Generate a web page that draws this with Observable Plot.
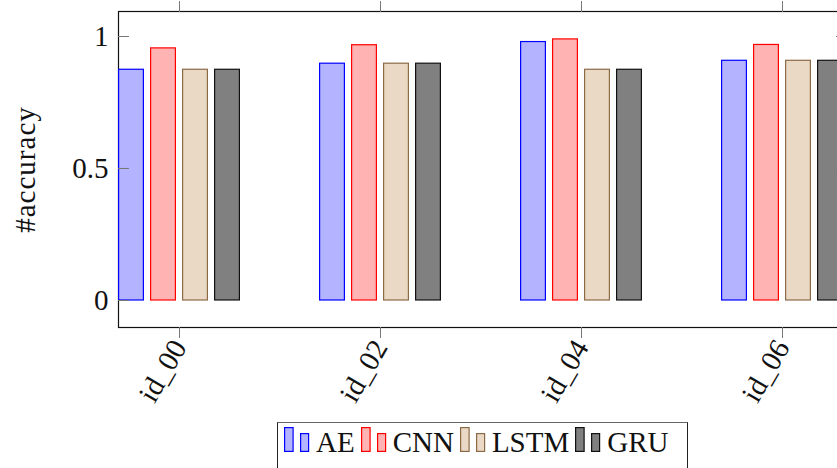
<!DOCTYPE html>
<html>
<head>
<meta charset="utf-8">
<script src="https://cdn.jsdelivr.net/npm/d3@7"></script>
<script src="https://cdn.jsdelivr.net/npm/@observablehq/plot@0.6"></script>
<style>
  html, body { margin: 0; padding: 0; background: white; overflow: hidden; width: 837px; height: 468px; }
  #chart { position: absolute; left: 0; top: 0; width: 870px; }
  #chart svg { max-width: none !important; }
  #chart svg g[aria-label="y-axis label"] text { letter-spacing: 1px; }
  #legend {
    position: absolute; left: 277px; top: 422px; width: 411px; height: 60px;
    border: 1.3px solid #222; border-top-color: #666; box-sizing: border-box;
    font-family: "Liberation Serif", "DejaVu Serif", "Noto Serif", serif; font-size: 29px; line-height: 34px;
    padding-left: 6px; padding-top: 2px; white-space: nowrap; color: #111;
  }
  #legend .item { display: inline-block; }
  #legend svg { display: inline-block; vertical-align: baseline; margin-right: 6px; }
  #legend .lab { margin-right: 6px; }
</style>
</head>
<body>
<div id="chart"></div>
<div id="legend"></div>
<script>
const categories = ["id_00", "id_02", "id_04", "id_06"];
const seriesNames = ["AE", "CNN", "LSTM", "GRU"];
const aeValues   = [0.874, 0.897, 0.979, 0.908];
const cnnValues  = [0.955, 0.967, 0.989, 0.968];
const lstmValues = [0.874, 0.897, 0.874, 0.908];
const gruValues  = [0.874, 0.897, 0.874, 0.908];
const yTicks = [0, 0.5, 1];
const fills   = ["#b3b3ff", "#ffb3b3", "#ead9c4", "#808080"];
const strokes = ["#0000ff", "#ff0000", "#8c6a48", "#111111"];

const seriesValues = [aeValues, cnnValues, lstmValues, gruValues];
const bandwidth = 123, barStep = 32, barWidth = 27;

const barMarks = seriesNames.map((name, k) =>
  Plot.barY(categories.map((c, i) => ({cat: c, value: seriesValues[k][i], series: name})), {
    x: "cat", y: "value",
    fill: fills[k], stroke: strokes[k], strokeWidth: 1.2,
    insetLeft: barStep * k + 0.6,
    insetRight: bandwidth - barStep * k - barWidth + 0.6
  })
);

const chart = Plot.plot({
  width: 870, height: 420,
  marginLeft: 118, marginRight: 24, marginTop: 11, marginBottom: 93,
  style: {fontFamily: "'Liberation Serif', 'DejaVu Serif', 'Noto Serif', serif", fontSize: "29px", background: "white", color: "#111", maxWidth: "none"},
  x: {domain: categories, paddingInner: 0.391, paddingOuter: 0, align: 0},
  y: {domain: [-0.1023, 1.0947]},
  marks: [
    Plot.frame({stroke: "#111", strokeWidth: 1.2}),
    ...barMarks,
    Plot.axisY(yTicks, {anchor: "left", tickSize: 0, tickPadding: 10, tickFormat: d => String(d), fontSize: 29, label: null}),
    Plot.axisY(yTicks, {anchor: "left", tickSize: 0, fill: "currentColor", tickFormat: () => "", fontSize: 29,
      label: "#accuracy", labelAnchor: "center", labelArrow: "none", labelOffset: 104}),
    Plot.axisY(yTicks, {anchor: "left", tickSize: -11, fill: "none", stroke: "#777", label: null}),
    Plot.axisY(yTicks, {anchor: "right", tickSize: -11, fill: "none", stroke: "#777", label: null}),
    Plot.axisX({anchor: "top", tickSize: 11, fill: "none", stroke: "#777", label: null}),
    Plot.axisX({anchor: "bottom", tickSize: 11, stroke: "#777", tickRotate: -60, tickPadding: 4, fontSize: 29, label: null})
  ]
});
document.getElementById("chart").appendChild(chart);

const legend = document.getElementById("legend");
seriesNames.forEach((name, k) => {
  const item = document.createElement("span");
  item.className = "item";
  item.innerHTML =
    `<svg width="26" height="25" viewBox="0 0 26 25">` +
    `<rect x="0.6" y="0.6" width="8.5" height="23.8" fill="${fills[k]}" stroke="${strokes[k]}" stroke-width="1.2"/>` +
    `<rect x="16.6" y="6.6" width="8" height="17.8" fill="${fills[k]}" stroke="${strokes[k]}" stroke-width="1.2"/>` +
    `</svg><span class="lab">${name}</span>`;
  legend.appendChild(item);
});
</script>
</body>
</html>
